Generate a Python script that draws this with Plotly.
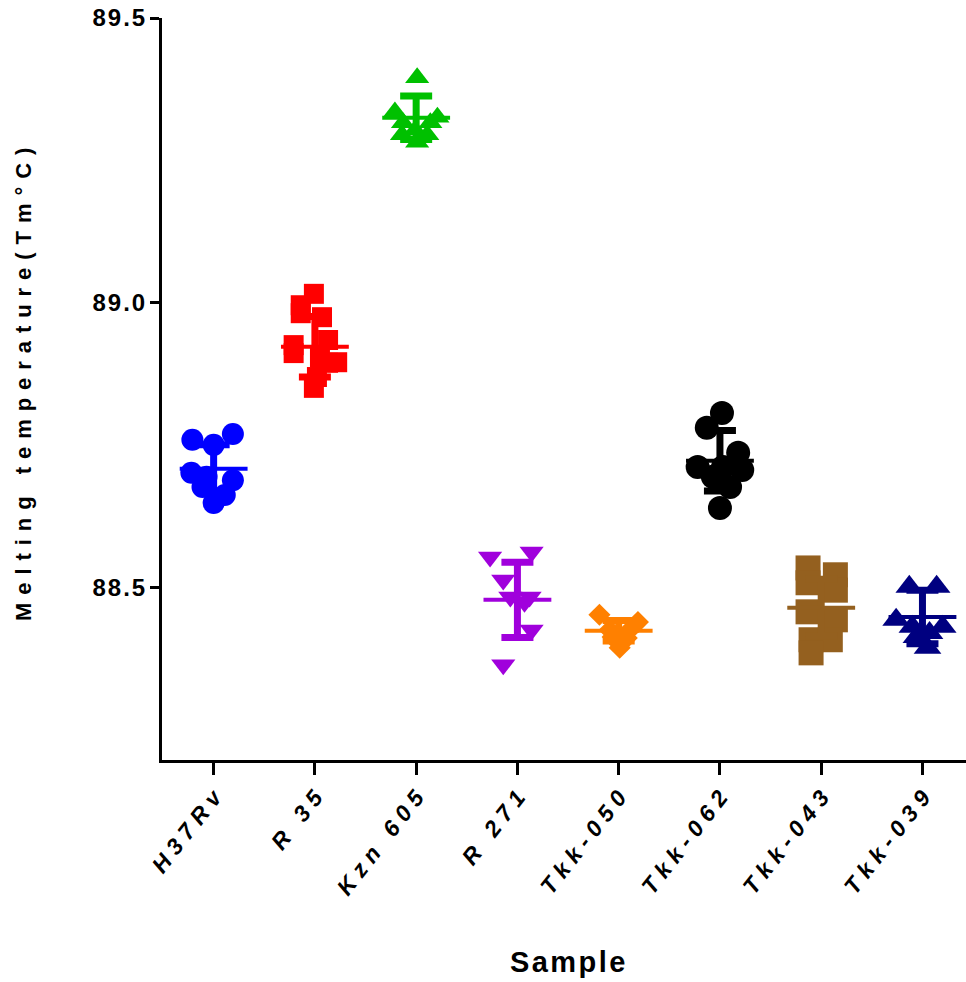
import plotly.graph_objects as go

samples = ["H37Rv", "R 35", "Kzn 605", "R 271", "Tkk-050", "Tkk-062", "Tkk-043", "Tkk-039"]

h37rv = [88.760, 88.751, 88.770, 88.702, 88.689, 88.663, 88.649, 88.677, 88.695]
h37rv_jit = [-0.21, 0.0, 0.19, -0.22, 0.19, 0.11, 0.0, -0.11, -0.07]

r35 = [89.016, 88.996, 88.982, 88.975, 88.926, 88.912, 88.935, 88.895, 88.904, 88.896, 88.870, 88.851]
r35_jit = [-0.01, -0.14, -0.14, 0.07, -0.21, -0.21, 0.13, 0.13, 0.05, 0.22, 0.02, -0.01]

kzn605 = [89.395, 89.335, 89.316, 89.326, 89.316, 89.282, 89.295, 89.295, 89.303]
kzn605_jit = [0.01, -0.21, -0.13, 0.21, 0.14, 0.01, -0.14, 0.11, -0.01]

r271 = [88.554, 88.563, 88.514, 88.484, 88.484, 88.475, 88.426, 88.365]
r271_jit = [-0.27, 0.14, -0.14, -0.07, 0.12, 0.07, 0.14, -0.14]

tkk050 = [88.453, 88.440, 88.395, 88.426, 88.426, 88.414, 88.412]
tkk050_jit = [-0.19, 0.19, 0.01, -0.09, 0.11, -0.06, 0.08]

tkk062 = [88.807, 88.781, 88.737, 88.712, 88.707, 88.695, 88.677, 88.640, 88.712]
tkk062_jit = [0.02, -0.13, 0.18, -0.22, 0.22, -0.07, 0.10, 0.0, 0.03]

tkk043 = [88.535, 88.509, 88.523, 88.496, 88.458, 88.444, 88.409, 88.409, 88.386]
tkk043_jit = [-0.13, -0.13, 0.14, 0.14, -0.13, 0.14, -0.10, 0.09, -0.10]

tkk039 = [88.502, 88.502, 88.444, 88.432, 88.432, 88.421, 88.395, 88.414]
tkk039_jit = [-0.13, 0.14, -0.26, -0.10, 0.20, 0.07, 0.05, -0.06]

means = [88.709, 88.923, 89.325, 88.479, 88.425, 88.723, 88.465, 88.449]
sds = [0.042, 0.053, 0.038, 0.066, 0.018, 0.053, 0.050, 0.047]

y_ticks = [88.5, 89.0, 89.5]

groups = [h37rv, r35, kzn605, r271, tkk050, tkk062, tkk043, tkk039]
jitters = [h37rv_jit, r35_jit, kzn605_jit, r271_jit, tkk050_jit, tkk062_jit, tkk043_jit, tkk039_jit]

colors = ["#0000FF", "#FF0000", "#00C000", "#A000DC", "#FF8000", "#000000", "#94601F", "#000080"]
symbols = ["circle", "square", "triangle-up", "triangle-down", "diamond", "circle", "square", "triangle-up"]
sizes = [22, 20, 21, 21, 17, 24, 25, 24]

fig = go.Figure()

for i, (vals, jit) in enumerate(zip(groups, jitters)):
    fig.add_trace(go.Scatter(
        x=[i + j for j in jit], y=vals, mode="markers",
        marker=dict(symbol=symbols[i], size=sizes[i], color=colors[i], line=dict(width=0)),
        showlegend=False, hoverinfo="y"))

for i in range(len(samples)):
    fig.add_trace(go.Scatter(
        x=[i], y=[means[i]], mode="markers",
        marker=dict(size=1, color=colors[i]),
        error_y=dict(type="data", array=[sds[i]], symmetric=True, color=colors[i], thickness=7, width=16),
        error_x=dict(type="data", array=[0.335], symmetric=True, color=colors[i], thickness=4, width=0),
        showlegend=False, hoverinfo="y"))

def spaced(s, sep="\u2009"):
    return sep.join(list(s))

fig.update_layout(
    width=966, height=982,
    margin=dict(l=162, r=0, t=18, b=222),
    paper_bgcolor="white", plot_bgcolor="white",
    font=dict(family="Arial, Liberation Sans, sans-serif", color="black"),
    xaxis=dict(
        range=[-0.51, 7.43], tickmode="array", tickvals=list(range(len(samples))),
        ticktext=[spaced(s, " ") for s in samples], tickangle=-52,
        tickfont=dict(size=23, weight="bold", style="italic", color="black"),
        showline=True, linewidth=3, linecolor="black", ticks="outside", ticklen=12,
        tickwidth=3, tickcolor="black", showgrid=False, zeroline=False),
    yaxis=dict(
        range=[88.198, 89.5], tickmode="array", tickvals=y_ticks,
        ticktext=[spaced(f"{v:.1f}", "\u200a") for v in y_ticks],
        tickfont=dict(size=24, weight="bold", color="black"),
        showline=True, linewidth=3, linecolor="black", ticks="outside", ticklen=9,
        tickwidth=3, tickcolor="black", showgrid=False, zeroline=False),
    annotations=[
        dict(text=spaced("Melting temperature(Tm°C)", " \u200a"), xref="paper", yref="paper",
             x=(23 - 162) / 804, y=(760 - 385) / 742, xanchor="center", yanchor="middle",
             textangle=-90, showarrow=False, font=dict(size=22, weight="bold", color="black")),
        dict(text=spaced("Sample", "\u200a"), xref="paper", yref="paper",
             x=(567 - 162) / 804, y=(760 - 962) / 742, xanchor="center", yanchor="middle",
             showarrow=False, font=dict(size=29, weight="bold", color="black")),
    ],
)

fig.write_html("out.html")
